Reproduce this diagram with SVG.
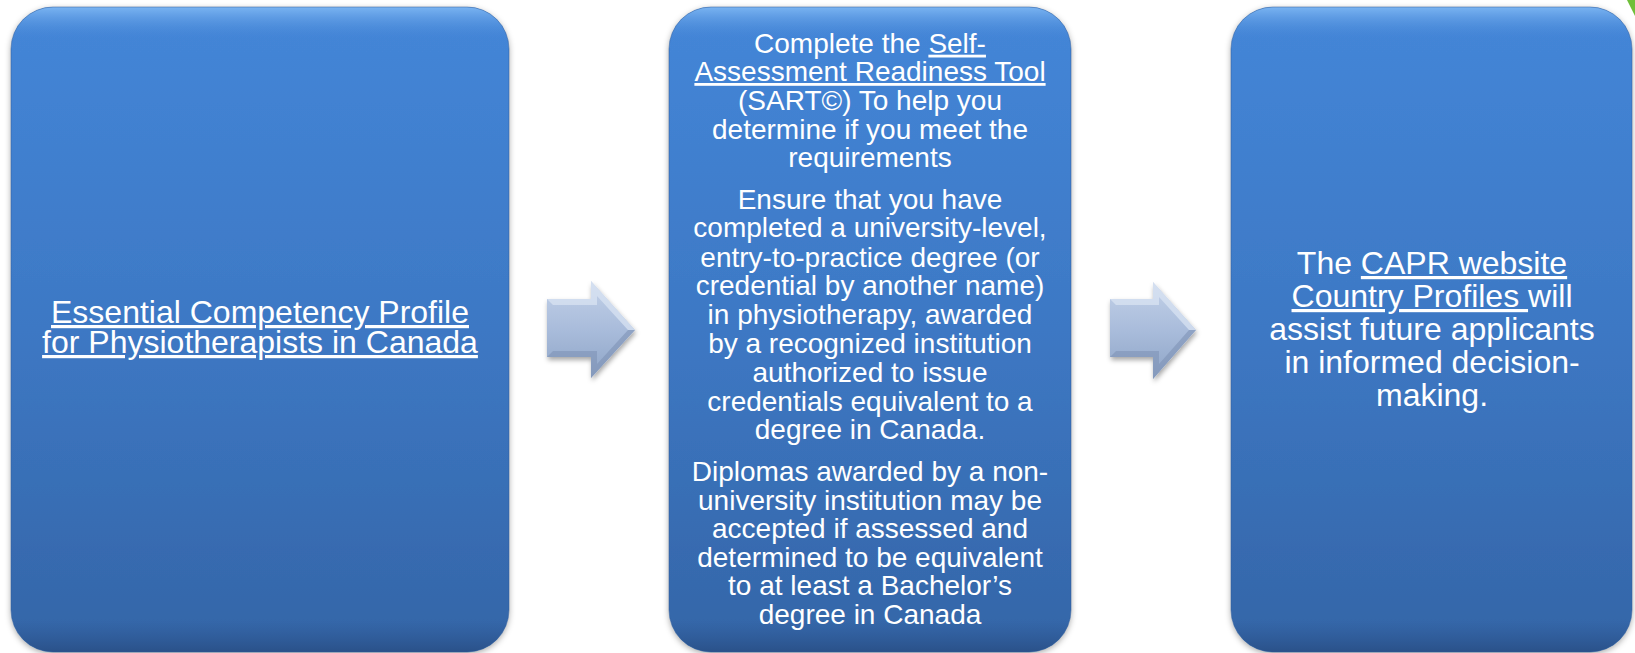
<svg xmlns="http://www.w3.org/2000/svg" width="1635" height="653" viewBox="0 0 1635 653">
  <defs>
    <linearGradient id="boxFill" x1="0" y1="0" x2="0" y2="1">
      <stop offset="0" stop-color="#4486d8"/>
      <stop offset="0.5" stop-color="#3d78c4"/>
      <stop offset="1" stop-color="#3465a7"/>
    </linearGradient>
    <linearGradient id="boxEdge" x1="0" y1="0" x2="0" y2="1">
      <stop offset="0" stop-color="#7ab4f2"/>
      <stop offset="0.05" stop-color="#4a8ad9" stop-opacity="0"/>
      <stop offset="0.95" stop-color="#2d5a96" stop-opacity="0"/>
      <stop offset="1" stop-color="#2a5189"/>
    </linearGradient>
    <linearGradient id="arrowFill" x1="0" y1="0" x2="0" y2="1">
      <stop offset="0" stop-color="#c3d1e8"/>
      <stop offset="0.5" stop-color="#a9bcdb"/>
      <stop offset="1" stop-color="#8ea4c6"/>
    </linearGradient>
    <filter id="shadow" x="-5%" y="-5%" width="110%" height="110%">
      <feDropShadow dx="0" dy="2" stdDeviation="3" flood-color="#000" flood-opacity="0.35"/>
    </filter>
    <filter id="ashadow" x="-20%" y="-20%" width="140%" height="140%">
      <feDropShadow dx="1" dy="3" stdDeviation="2.5" flood-color="#000" flood-opacity="0.35"/>
    </filter>
  </defs>
  <style>
    .box { fill: url(#boxFill); filter: url(#shadow); }
    .edge { fill: url(#boxEdge); stroke: #2f5d9c; stroke-width: 1; stroke-opacity: 0.5; }
    .t28 { font-family: "Liberation Sans", Arial, sans-serif; font-size: 28px; fill: #ffffff; text-anchor: middle; }
    .t32 { font-family: "Liberation Sans", Arial, sans-serif; font-size: 32px; fill: #ffffff; text-anchor: middle; }
    .u { text-decoration: underline; }
    .arrow { fill: url(#arrowFill); filter: url(#ashadow); }
    .bevel-top { fill: #dce6f4; opacity: 0.7; }
    .bevel-bot { fill: #7e93b6; opacity: 0.6; }
  </style>

  <!-- decorative green corner -->
  <polygon points="1627,0 1635,0 1635,16" fill="#6fbf3a"/>

  <g id="node1">
    <rect class="box" x="11" y="7" width="498" height="645" rx="42" ry="42"/>
    <rect class="edge" x="11" y="7" width="498" height="645" rx="42" ry="42"/>
    <text class="t32" x="260" y="323"><tspan class="u" x="260" y="323">Essential Competency Profile</tspan><tspan class="u" x="260" y="353">for Physiotherapists in Canada</tspan></text>
  </g>

  <g id="node2">
    <rect class="box" x="669" y="7" width="402" height="645" rx="42" ry="42"/>
    <rect class="edge" x="669" y="7" width="402" height="645" rx="42" ry="42"/>
    <text class="t28" x="870" y="52.7">Complete the <tspan class="u">Self-</tspan></text>
    <text class="t28" x="870" y="81"><tspan class="u">Assessment Readiness Tool</tspan></text>
    <text class="t28" x="870" y="110">(SART©) To help you</text>
    <text class="t28" x="870" y="139">determine if you meet the</text>
    <text class="t28" x="870" y="167">requirements</text>
    <text class="t28" x="870" y="208.5">Ensure that you have</text>
    <text class="t28" x="870" y="237.3">completed a university-level,</text>
    <text class="t28" x="870" y="266.5">entry-to-practice degree (or</text>
    <text class="t28" x="870" y="295">credential by another name)</text>
    <text class="t28" x="870" y="323.5">in physiotherapy, awarded</text>
    <text class="t28" x="870" y="353">by a recognized institution</text>
    <text class="t28" x="870" y="382">authorized to issue</text>
    <text class="t28" x="870" y="411">credentials equivalent to a</text>
    <text class="t28" x="870" y="439.3">degree in Canada.</text>
    <text class="t28" x="870" y="481">Diplomas awarded by a non-</text>
    <text class="t28" x="870" y="509.5">university institution may be</text>
    <text class="t28" x="870" y="538.3">accepted if assessed and</text>
    <text class="t28" x="870" y="566.7">determined to be equivalent</text>
    <text class="t28" x="870" y="595.3">to at least a Bachelor’s</text>
    <text class="t28" x="870" y="624">degree in Canada</text>
  </g>

  <g id="node3">
    <rect class="box" x="1231" y="7" width="401" height="645" rx="42" ry="42"/>
    <rect class="edge" x="1231" y="7" width="401" height="645" rx="42" ry="42"/>
    <text class="t32" x="1432" y="274">The <tspan class="u">CAPR website</tspan></text>
    <text class="t32" x="1432" y="307"><tspan class="u">Country Profiles </tspan>will</text>
    <text class="t32" x="1432" y="340">assist future applicants</text>
    <text class="t32" x="1432" y="373">in informed decision-</text>
    <text class="t32" x="1432" y="405.5">making.</text>
  </g>

  <g id="connectors">
    <g id="arrow1">
      <polygon class="arrow" points="547,299 591,299 591,281 635,330 591,378 591,357 547,357"/>
      <polygon class="bevel-top" points="547,299 591,299 591,281 635,330 628,330 597,296 597,305 553,305"/>
      <polygon class="bevel-bot" points="547,357 591,357 591,378 635,330 628,330 597,364 597,351 553,351"/>
    </g>
    <g id="arrow2">
      <polygon class="arrow" points="1110,299 1153,299 1153,282 1196,330 1153,379 1153,357 1110,357"/>
      <polygon class="bevel-top" points="1110,299 1153,299 1153,282 1196,330 1189,330 1159,297 1159,305 1116,305"/>
      <polygon class="bevel-bot" points="1110,357 1153,357 1153,379 1196,330 1189,330 1159,364 1159,351 1116,351"/>
    </g>
  </g>
</svg>
